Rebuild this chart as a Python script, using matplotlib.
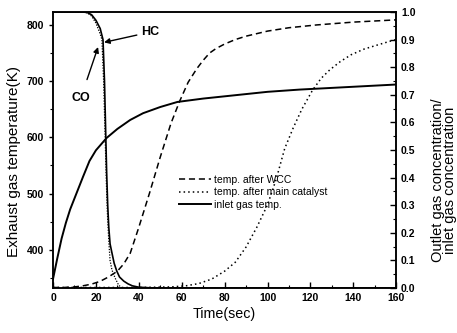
import matplotlib
matplotlib.use("Agg")
import matplotlib.pyplot as plt
from matplotlib.ticker import MultipleLocator

plt.rcParams['font.family'] = ['Liberation Sans', 'DejaVu Sans']

# inlet gas temperature (K)
t_in = [0, 2, 4, 6, 8, 11, 14, 17, 20, 25, 30, 36, 42, 50, 58, 70, 85, 100, 115, 130, 145, 160]
v_in = [348, 385, 420, 448, 472, 501, 530, 558, 577, 599, 615, 631, 643, 654, 663, 669, 675, 681, 685, 688, 691, 694]

# temperature after WCC (K)
t_wcc = [0, 5, 10, 14, 18, 22, 26, 30, 33, 36, 40, 45, 50, 55, 59, 63, 67, 70, 73, 76, 80, 85, 90, 100, 110, 123, 140, 160]
v_wcc = [333, 333, 334, 336, 339, 344, 352, 362, 375, 394, 440, 501, 565, 625, 664, 698, 722, 737, 750, 758, 766, 774, 780, 789, 795, 800, 805, 809]

# temperature after main catalyst (K)
t_main = [0, 40, 55, 62, 68, 74, 80, 85, 90, 95, 100, 104, 108, 112, 116, 121, 125, 129, 134, 139, 145, 151, 158, 160]
v_main = [333, 333, 334, 336, 340, 348, 362, 378, 405, 440, 480, 525, 580, 617, 650, 684, 705, 720, 735, 747, 757, 764, 772, 774]

# outlet / inlet concentration ratio
t_hc = [0, 14, 16, 18, 20, 22, 23.3, 24, 24.6, 25, 25.5, 26, 26.6, 27.4, 28.5, 29.7, 31, 33, 35, 37, 40, 45, 50, 160]
r_hc = [1.0, 1.0, 0.998, 0.99, 0.97, 0.94, 0.9, 0.75, 0.55, 0.42, 0.3, 0.22, 0.16, 0.13, 0.09, 0.062, 0.04, 0.025, 0.015, 0.008, 0.003, 0.001, 0, 0]

t_co = [0, 14, 16, 18, 20, 22, 22.8, 23.6, 24.3, 24.8, 25.3, 26, 26.6, 27.5, 28.9, 30.5, 32, 160]
r_co = [1.0, 1.0, 0.997, 0.985, 0.96, 0.92, 0.9, 0.75, 0.55, 0.4, 0.28, 0.17, 0.1, 0.065, 0.037, 0.012, 0, 0]

labels = ['temp. after WCC', 'temp. after main catalyst', 'inlet gas temp.']

fig = plt.figure(figsize=(4.57, 3.33), dpi=100)
ax = fig.add_axes([0.116, 0.135, 0.751, 0.829])
ax2 = ax.twinx()

l1, = ax.plot(t_wcc, v_wcc, color='black', lw=1.1, ls=(0, (4, 2.5)))
l2, = ax.plot(t_main, v_main, color='black', lw=1.1, ls=(0, (1, 2)))
l3, = ax.plot(t_in, v_in, color='black', lw=1.4)

ax2.plot(t_co, r_co, color='black', lw=0.9, ls=(0, (1, 1.2)))
ax2.plot(t_hc, r_hc, color='black', lw=1.2)

ax.set_xlim(0, 160)
ax.set_ylim(332, 823)
ax2.set_ylim(0, 1.0)

ax.xaxis.set_major_locator(MultipleLocator(20))
ax.xaxis.set_minor_locator(MultipleLocator(10))
ax.yaxis.set_major_locator(MultipleLocator(100))
ax.yaxis.set_minor_locator(MultipleLocator(50))
ax2.yaxis.set_major_locator(MultipleLocator(0.1))
ax2.yaxis.set_minor_locator(MultipleLocator(0.05))
ax2.yaxis.set_major_formatter(plt.FormatStrFormatter('%.1f'))

ax.tick_params(axis='x', which='both', direction='in', top=False, labelsize=7.5)
ax.tick_params(axis='x', which='major', length=4, width=1)
ax.tick_params(axis='x', which='minor', length=2.5, width=0.8)
ax.tick_params(axis='y', which='major', direction='out', length=3, width=1, labelsize=7.5)
ax.tick_params(axis='y', which='minor', direction='out', length=2, width=0.8)
ax2.tick_params(axis='y', which='major', direction='in', length=4, width=1, labelsize=7.5)
ax2.tick_params(axis='y', which='minor', direction='in', length=2.5, width=0.8)
for lab in ax.get_xticklabels() + ax.get_yticklabels() + ax2.get_yticklabels():
    lab.set_fontweight('bold')

for a in (ax, ax2):
    for s in a.spines.values():
        s.set_linewidth(1.1)

ax.set_xlabel('Time(sec)', fontsize=10.3, labelpad=3)
ax.set_ylabel('Exhaust gas temperature(K)', fontsize=11)
ax.yaxis.set_label_coords(-0.093, 0.46)
ax2.set_ylabel('Outlet gas concentration/\ninlet gas concentration', fontsize=10.5,
               rotation=90, linespacing=0.85)
ax2.yaxis.set_label_coords(1.1, 0.39)

leg = ax.legend([l1, l2, l3], labels, loc='upper left', bbox_to_anchor=(0.355, 0.425),
                frameon=False, fontsize=7.5, handlelength=3.1, handletextpad=0.3,
                labelspacing=0.25, borderaxespad=0)

ax2.annotate('HC', xy=(23.8, 0.89), xytext=(41, 0.927), fontsize=9, fontweight='bold',
             va='center', ha='left',
             arrowprops=dict(arrowstyle='-|>', color='black', lw=1.0, shrinkA=1, shrinkB=0,
                             mutation_scale=8))
ax2.annotate('CO', xy=(21, 0.873), xytext=(13, 0.69), fontsize=9, fontweight='bold',
             va='center', ha='center',
             arrowprops=dict(arrowstyle='-|>', color='black', lw=1.0, shrinkA=7, shrinkB=0,
                             mutation_scale=8))

fig.savefig('out.png', dpi=100)
